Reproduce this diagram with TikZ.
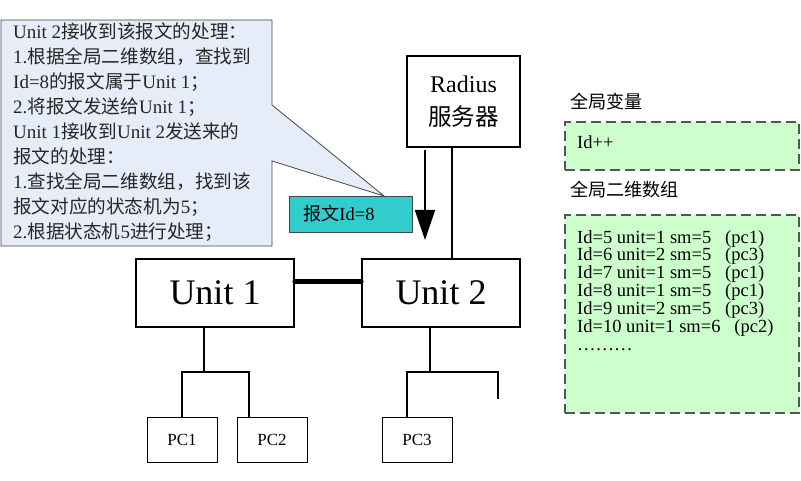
\documentclass[tikz,border=0pt]{standalone}
\usepackage{fontspec}
\setmainfont{Liberation Serif}
\newfontfamily\cjkfont{Noto Sans CJK SC}[Scale=0.98]
\newcommand\zh[1]{{\cjkfont #1}}
\usetikzlibrary{arrows.meta}
\definecolor{calloutfill}{RGB}{230,236,248}
\definecolor{tealfill}{RGB}{51,204,204}
\definecolor{greenfill}{RGB}{204,255,204}
\definecolor{dashgray}{RGB}{85,85,85}
\definecolor{edgegray}{RGB}{70,70,70}
\tikzset{
  unitbox/.style={draw=black,line width=1.8pt,inner sep=0pt,minimum width=158pt,minimum height=68pt,font=\fontsize{36}{40}\selectfont},
  pcbox/.style={draw=black,line width=1pt,inner sep=0pt,minimum width=70pt,minimum height=45pt,font=\fontsize{17}{20}\selectfont},
  wire/.style={draw=black,line width=1.8pt},
  dashbox/.style={draw=dashgray,fill=greenfill,line width=1.3pt,dash pattern=on 10pt off 5pt},
  plaintext/.style={inner sep=0pt,anchor=west,font=\fontsize{18.5}{18}\selectfont}
}
\begin{document}
\begin{tikzpicture}[x=1pt,y=-1pt]
\useasboundingbox (0,0) rectangle (801,481);
% callout
\coordinate (tip) at (384,196);
\filldraw[fill=calloutfill,draw=edgegray,line width=0.8pt]
  (1,20) -- (272,20) -- (272,105) -- (tip) -- (272,161) -- (272,246) -- (1,246) -- cycle;
\node[anchor=north west,inner sep=0pt,align=left,font=\fontsize{19}{25}\selectfont,text=black!85] (note) at (13,23) {%
Unit 2\zh{接收到该报文的处理：}\\
1.\zh{根据全局二维数组，查找到}\\
Id=8\zh{的报文属于}Unit 1\zh{；}\\
2.\zh{将报文发送给}Unit 1\zh{；}\\
Unit 1\zh{接收到}Unit 2\zh{发送来的}\\
\zh{报文的处理：}\\
1.\zh{查找全局二维数组，找到该}\\
\zh{报文对应的状态机为}5\zh{；}\\
2.\zh{根据状态机}5\zh{进行处理；}};
% teal box
\node[draw=edgegray,fill=tealfill,line width=0.8pt,minimum width=123pt,minimum height=36pt,inner sep=0pt] (pkt) at (350.5,214) {};
\node[plaintext] (pkttext) at (303,214) {\zh{报文}Id=8};
% radius server
\node[draw=black,line width=1.8pt,minimum width=113pt,minimum height=91pt,inner sep=0pt,align=center,font=\fontsize{24}{33}\selectfont] (radius) at (463.5,101.5) {Radius\\\zh{服务器}};
% units
\node[unitbox] (u1) at (215,293) {Unit 1};
\node[unitbox] (u2) at (441,293) {Unit 2};
% PCs
\node[pcbox] (pc1) at (182,439.5) {PC1};
\node[pcbox] (pc2) at (272,439.5) {PC2};
\node[pcbox] (pc3) at (417,439.5) {PC3};
% radius links
\coordinate (arrs) at (425,150);
\coordinate (arre) at (425,240);
\draw[line width=1.8pt,-{Triangle[length=30pt 0,width=20pt 0]}] (arrs) -- (arre);
\draw[line width=1.4pt] (radius.south -| 452,0) -- (u2.north -| 452,0);
% thick link
\draw[line width=5pt,line cap=round] ([yshift=11pt]u1.east) -- ([yshift=11pt]u2.west);
% trees
\coordinate (j1) at (204,372);
\coordinate (j2) at (430,372);
\coordinate (open) at (498,399);
\draw[wire] (u1.south -| j1) -- (j1);
\draw[wire] (pc1.north) |- (j1) -| (pc2.north -| 249,0);
\draw[wire] (u2.south -| j2) -- (j2);
\draw[wire] (pc3.north -| 407,0) |- (j2) -| (open);
% right panel
\node[plaintext] (lbl1) at (570,102) {\zh{全局变量}};
\node[dashbox,minimum width=234pt,minimum height=48pt,inner sep=0pt] (box1) at (682,146) {};
\node[plaintext] (idpp) at (577,142) {Id++};
\node[plaintext] (lbl2) at (570,190) {\zh{全局二维数组}};
\node[dashbox,minimum width=234pt,minimum height=198pt,inner sep=0pt] (box2) at (682,314) {};
\node[anchor=north west,inner sep=0pt,align=left,font=\fontsize{18.5}{17.9}\selectfont] (table) at (577,230) {%
Id=5 unit=1 sm=5\ \ \ (pc1)\\
Id=6 unit=2 sm=5\ \ \ (pc3)\\
Id=7 unit=1 sm=5\ \ \ (pc1)\\
Id=8 unit=1 sm=5\ \ \ (pc1)\\
Id=9 unit=2 sm=5\ \ \ (pc3)\\
Id=10 unit=1 sm=6\ \ \ (pc2)\\
………};
\end{tikzpicture}
\end{document}
